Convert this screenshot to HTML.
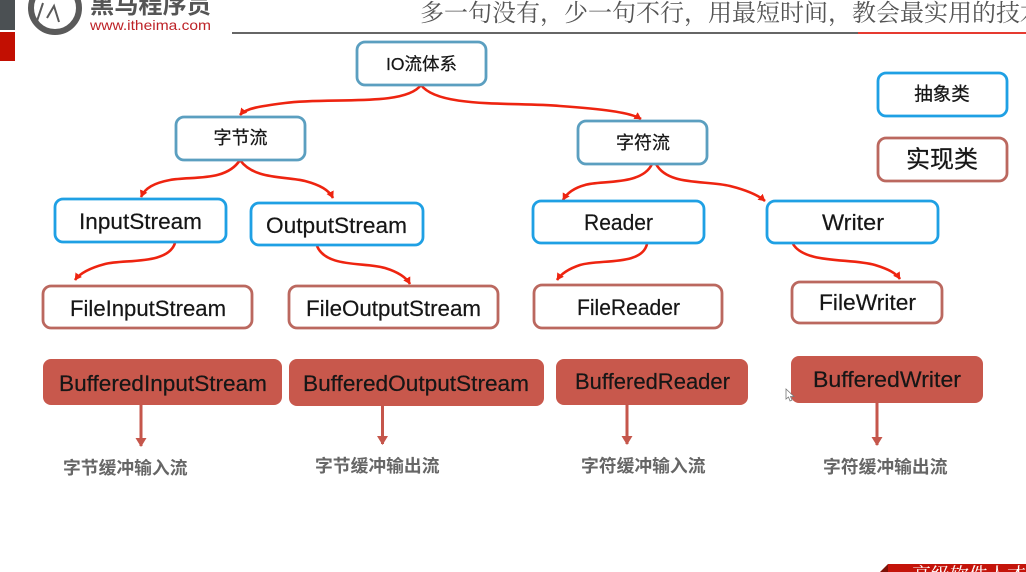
<!DOCTYPE html>
<html lang="zh">
<head>
<meta charset="utf-8">
<title>IO流体系</title>
<style>
html,body{margin:0;padding:0;background:#fff;width:1026px;height:572px;overflow:hidden}
svg{display:block;filter:blur(0.35px)}
.l{font-family:"Liberation Sans","DejaVu Sans",sans-serif;font-size:22.5px;fill:#161616;stroke:#161616;stroke-width:0.2}
.c{font-family:"Liberation Sans","Noto Sans CJK SC",sans-serif;fill:#161616;stroke:#161616;stroke-width:0.25;text-anchor:middle;dominant-baseline:central}
.g{font-family:"Liberation Sans","Noto Sans CJK SC",sans-serif;font-size:17.8px;font-weight:700;fill:#666;dominant-baseline:central}
.a{fill:none;stroke:#ee2410;stroke-width:2.6;marker-end:url(#ar)}
.t{fill:#fff;stroke:#5b9fc0;stroke-width:2.8}
.b{fill:#fff;stroke:#1fa0e4;stroke-width:2.8}
.r{fill:#fff;stroke:#bb685f;stroke-width:2.8}
.f{fill:#c8584c}
.d{stroke:#c5564b;stroke-width:3;marker-end:url(#ad)}
</style>
</head>
<body>
<svg width="1026" height="572" viewBox="0 0 1026 572" xmlns="http://www.w3.org/2000/svg">
<defs>
<marker id="ar" markerWidth="10" markerHeight="10" refX="6.500" refY="4" orient="auto" markerUnits="userSpaceOnUse"><path d="M0 0L7 4L0 8Z" fill="#ee2410"/></marker>
<marker id="ad" markerWidth="14" markerHeight="12" refX="8" refY="5.500" orient="auto" markerUnits="userSpaceOnUse"><path d="M0 0L9 5.500L0 11Z" fill="#c5564b"/></marker>
<clipPath id="top"><rect x="0" y="0" width="1026" height="35"/></clipPath>
</defs>
<rect width="1026" height="572" fill="#fff"/>

<!-- header -->
<rect x="0" y="0" width="15" height="30" fill="#4b5053"/>
<rect x="0" y="32" width="15" height="29" fill="#c20f02"/>
<g clip-path="url(#top)">
<circle cx="55" cy="8" r="24" fill="none" stroke="#5a5a5a" stroke-width="6"/>
<path d="M36 24L43 3M47 18L54 6L59 22" fill="none" stroke="#5a5a5a" stroke-width="2"/>
</g>
<text x="90" y="13" font-family="'Liberation Sans','Noto Sans CJK SC',sans-serif" font-size="24" font-weight="700" fill="#555" textLength="121" lengthAdjust="spacingAndGlyphs">黑马程序员</text>
<text x="90" y="30" font-family="'Liberation Sans',sans-serif" font-size="14" fill="#bd2227" textLength="121" lengthAdjust="spacingAndGlyphs">www.itheima.com</text>
<rect x="232" y="32" width="626" height="2" fill="#666"/>
<rect x="858" y="32" width="168" height="2" fill="#e63a30"/>
<text x="420" y="21" font-family="'Noto Serif CJK SC',serif" font-size="24" fill="#555">多一句没有&#xFF0C;少一句不行&#xFF0C;用最短时间&#xFF0C;教会最实用的技术</text>

<!-- connectors -->
<path class="a" d="M421 85C405 107 330 97 285 103C262 106 246 108 240 115"/>
<path class="a" d="M421 85C438 108 510 102 560 106C600 109 630 112 641 119"/>
<path class="a" d="M240 160C226 182 192 176 170 180C154 183 145 188 141 197"/>
<path class="a" d="M240 160C254 180 286 176 305 181C320 185 329 190 333 198"/>
<path class="a" d="M175 243C168 265 125 259 105 264C90 268 80 273 75 280"/>
<path class="a" d="M317 246C326 268 365 262 385 268C398 272 406 277 410 284"/>
<path class="a" d="M652 164C642 186 600 180 585 185C574 188 567 193 563 200"/>
<path class="a" d="M656 164C668 186 705 180 730 186C746 190 758 195 765 201"/>
<path class="a" d="M647 244C642 266 600 259 580 265C568 269 561 274 557 280"/>
<path class="a" d="M793 244C805 264 850 258 875 265C888 269 896 273 900 279"/>

<!-- boxes -->
<rect class="t" x="357" y="42" width="129" height="43" rx="8"/>
<rect class="t" x="176" y="117" width="129" height="43" rx="8"/>
<rect class="t" x="578" y="121" width="129" height="43" rx="8"/>
<rect class="b" x="878" y="73" width="129" height="43" rx="8"/>
<rect class="r" x="878" y="138" width="129" height="43" rx="8"/>
<rect class="b" x="55" y="199" width="171" height="43" rx="8"/>
<rect class="b" x="251" y="203" width="172" height="42" rx="8"/>
<rect class="b" x="533" y="201" width="171" height="42" rx="8"/>
<rect class="b" x="767" y="201" width="171" height="42" rx="8"/>
<rect class="r" x="43" y="286" width="209" height="42" rx="8"/>
<rect class="r" x="289" y="286" width="209" height="42" rx="8"/>
<rect class="r" x="534" y="285" width="188" height="43" rx="8"/>
<rect class="r" x="792" y="282" width="150" height="41" rx="8"/>
<rect class="f" x="43" y="359" width="239" height="46" rx="8"/>
<rect class="f" x="289" y="359" width="255" height="47" rx="8"/>
<rect class="f" x="556" y="359" width="192" height="46" rx="8"/>
<rect class="f" x="791" y="356" width="192" height="47" rx="8"/>

<!-- box labels -->
<text class="c" x="421.500" y="64" font-size="17.500">IO流体系</text>
<text class="c" x="240.500" y="138" font-size="18">字节流</text>
<text class="c" x="643" y="143" font-size="18">字符流</text>
<text class="c" x="942" y="94" font-size="18.500">抽象类</text>
<text class="c" x="942" y="160" font-size="24">实现类</text>

<text class="l" x="79" y="229" textLength="123" lengthAdjust="spacingAndGlyphs">InputStream</text>
<text class="l" x="266" y="233" textLength="141" lengthAdjust="spacingAndGlyphs">OutputStream</text>
<text class="l" x="584" y="230" textLength="69" lengthAdjust="spacingAndGlyphs">Reader</text>
<text class="l" x="822" y="230" textLength="62" lengthAdjust="spacingAndGlyphs">Writer</text>
<text class="l" x="70" y="316" textLength="156" lengthAdjust="spacingAndGlyphs">FileInputStream</text>
<text class="l" x="306" y="316" textLength="175" lengthAdjust="spacingAndGlyphs">FileOutputStream</text>
<text class="l" x="577" y="315" textLength="103" lengthAdjust="spacingAndGlyphs">FileReader</text>
<text class="l" x="819" y="310" textLength="97" lengthAdjust="spacingAndGlyphs">FileWriter</text>
<text class="l" x="59" y="391" textLength="208" lengthAdjust="spacingAndGlyphs">BufferedInputStream</text>
<text class="l" x="303" y="391" textLength="226" lengthAdjust="spacingAndGlyphs">BufferedOutputStream</text>
<text class="l" x="575" y="389" textLength="155" lengthAdjust="spacingAndGlyphs">BufferedReader</text>
<text class="l" x="813" y="387" textLength="148" lengthAdjust="spacingAndGlyphs">BufferedWriter</text>

<!-- down arrows -->
<line class="d" x1="141" y1="405" x2="141" y2="446"/>
<line class="d" x1="382.500" y1="406" x2="382.500" y2="444"/>
<line class="d" x1="627" y1="404" x2="627" y2="444"/>
<line class="d" x1="877" y1="402" x2="877" y2="445"/>

<text class="g" x="63" y="468">字节缓冲输入流</text>
<text class="g" x="315" y="466">字节缓冲输出流</text>
<text class="g" x="581" y="466">字符缓冲输入流</text>
<text class="g" x="823" y="467">字符缓冲输出流</text>

<!-- cursor -->
<path d="M786 389L786 399L788.500 397L790 401L792 400L790.500 396.500L794 396.500Z" fill="#fff" stroke="#777" stroke-width="0.8"/>

<!-- bottom banner -->
<path d="M880 572L888 564L888 572Z" fill="#7d1208"/>
<rect x="888" y="564" width="138" height="8" fill="#c4140a"/>
<text x="912" y="581" font-family="'Noto Serif CJK SC',serif" font-size="19" fill="#fff">高级软件人才培训专家</text>
</svg>
</body>
</html>
